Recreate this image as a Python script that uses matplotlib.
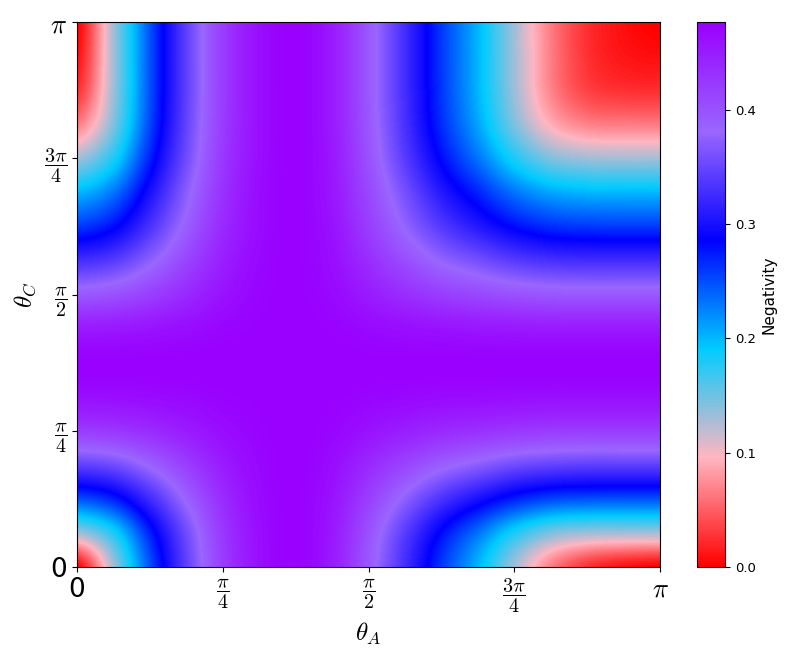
import numpy as np
import matplotlib
matplotlib.use("Agg")
import matplotlib.pyplot as plt
from matplotlib.colors import LinearSegmentedColormap

plt.rcParams['mathtext.fontset'] = 'cm'

# grid of angles, in units of pi (17 x 17 samples)
theta_A = np.linspace(0, 1, 17)
theta_C = np.linspace(0, 1, 17)

# negativity, rows = theta_C (bottom -> top), cols = theta_A (left -> right)
negativity = [
    [0.000, 0.130, 0.248, 0.345, 0.420, 0.463, 0.476, 0.452, 0.394, 0.328, 0.260, 0.200, 0.130, 0.065, 0.025, 0.008, 0.000],
    [0.130, 0.180, 0.272, 0.356, 0.425, 0.464, 0.476, 0.454, 0.401, 0.341, 0.282, 0.232, 0.180, 0.144, 0.132, 0.130, 0.130],
    [0.248, 0.272, 0.326, 0.385, 0.436, 0.467, 0.476, 0.459, 0.418, 0.374, 0.333, 0.301, 0.272, 0.254, 0.249, 0.248, 0.248],
    [0.345, 0.356, 0.385, 0.419, 0.451, 0.470, 0.477, 0.465, 0.439, 0.413, 0.389, 0.372, 0.356, 0.348, 0.345, 0.345, 0.345],
    [0.420, 0.425, 0.436, 0.451, 0.465, 0.474, 0.477, 0.472, 0.460, 0.448, 0.438, 0.431, 0.425, 0.421, 0.420, 0.420, 0.420],
    [0.463, 0.464, 0.467, 0.470, 0.474, 0.476, 0.477, 0.476, 0.473, 0.470, 0.467, 0.466, 0.464, 0.463, 0.463, 0.463, 0.463],
    [0.476, 0.476, 0.476, 0.477, 0.477, 0.477, 0.477, 0.477, 0.476, 0.476, 0.476, 0.476, 0.476, 0.476, 0.476, 0.476, 0.476],
    [0.452, 0.454, 0.459, 0.465, 0.472, 0.476, 0.477, 0.475, 0.469, 0.464, 0.460, 0.456, 0.454, 0.452, 0.452, 0.452, 0.452],
    [0.394, 0.401, 0.418, 0.439, 0.460, 0.473, 0.476, 0.469, 0.452, 0.435, 0.420, 0.410, 0.401, 0.396, 0.394, 0.394, 0.394],
    [0.328, 0.341, 0.374, 0.413, 0.448, 0.470, 0.476, 0.464, 0.435, 0.405, 0.378, 0.359, 0.341, 0.331, 0.328, 0.328, 0.328],
    [0.260, 0.282, 0.333, 0.389, 0.438, 0.467, 0.476, 0.460, 0.420, 0.378, 0.339, 0.309, 0.282, 0.266, 0.261, 0.260, 0.260],
    [0.200, 0.232, 0.301, 0.372, 0.431, 0.466, 0.476, 0.456, 0.410, 0.359, 0.309, 0.270, 0.232, 0.209, 0.201, 0.200, 0.200],
    [0.130, 0.180, 0.272, 0.356, 0.425, 0.464, 0.476, 0.454, 0.401, 0.341, 0.282, 0.232, 0.180, 0.144, 0.132, 0.130, 0.130],
    [0.065, 0.144, 0.254, 0.348, 0.421, 0.463, 0.476, 0.452, 0.396, 0.331, 0.266, 0.209, 0.144, 0.092, 0.069, 0.066, 0.065],
    [0.025, 0.132, 0.249, 0.345, 0.420, 0.463, 0.476, 0.452, 0.394, 0.328, 0.261, 0.201, 0.132, 0.069, 0.035, 0.026, 0.025],
    [0.008, 0.130, 0.248, 0.345, 0.420, 0.463, 0.476, 0.452, 0.394, 0.328, 0.260, 0.200, 0.130, 0.066, 0.026, 0.012, 0.008],
    [0.000, 0.130, 0.248, 0.345, 0.420, 0.463, 0.476, 0.452, 0.394, 0.328, 0.260, 0.200, 0.130, 0.065, 0.025, 0.008, 0.000],
]

tick_vals = [0, 0.25, 0.5, 0.75, 1.0]
tick_labels = ['0', r'$\dfrac{\pi}{4}$', r'$\dfrac{\pi}{2}$', r'$\dfrac{3\pi}{4}$', r'$\pi$']
tick_sizes = [19, 14.5, 14.5, 14.5, 19]
cbar_ticks = [0.0, 0.1, 0.2, 0.3, 0.4]

cmap = LinearSegmentedColormap.from_list(
    'neg', ['#ff0000', '#ffb6c1', '#00ccff', '#0000ff', '#9966ff', '#9900ff'])

fig = plt.figure(figsize=(7.93, 6.59), dpi=100)
ax = fig.add_axes([0.0971, 0.1396, 0.7352, 0.827])
cax = fig.add_axes([0.879, 0.1396, 0.0353, 0.827])

Z = np.array(negativity)
xa = np.array(theta_A) * np.pi
yc = np.array(theta_C) * np.pi
dx = (xa[1] - xa[0]) / 2
dy = (yc[1] - yc[0]) / 2
# samples sit on the pixel centres, so pad the extent by half a step
im = ax.imshow(Z, origin='lower', cmap=cmap, interpolation='catrom',
               interpolation_stage='data',
               extent=[xa[0] - dx, xa[-1] + dx, yc[0] - dy, yc[-1] + dy],
               aspect='auto', vmin=Z.min(), vmax=Z.max())
ax.set_xlim(xa[0], xa[-1])
ax.set_ylim(yc[0], yc[-1])

ax.set_xticks(np.array(tick_vals) * np.pi)
ax.set_xticklabels(tick_labels)
ax.set_yticks(np.array(tick_vals) * np.pi)
ax.set_yticklabels(tick_labels)
for lab, s in zip(ax.get_xticklabels(), tick_sizes):
    lab.set_fontsize(s)
for lab, s in zip(ax.get_yticklabels(), tick_sizes):
    lab.set_fontsize(s)
ax.set_xlabel(r'$\theta_A$', fontsize=18)
ax.set_ylabel(r'$\theta_C$', fontsize=18)

cb = fig.colorbar(im, cax=cax, ticks=cbar_ticks)
cb.set_label('Negativity', fontsize=11)
cb.ax.tick_params(labelsize=9.5)

fig.savefig('out.png', dpi=100)
